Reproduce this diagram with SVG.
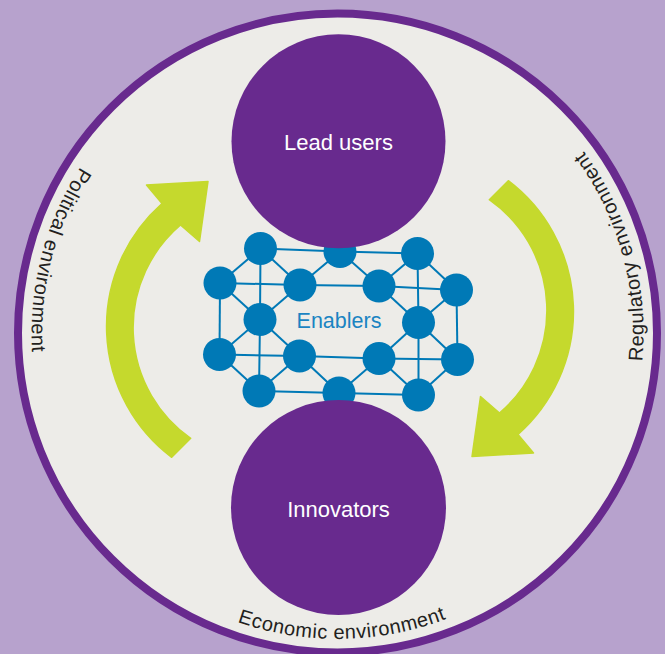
<svg xmlns="http://www.w3.org/2000/svg" width="665" height="654" viewBox="0 0 665 654">
  <defs>
    <style>
      .ring { font-family: "Liberation Sans", Arial, sans-serif; font-size: 20px; letter-spacing: 0.5px; fill: #231f20; }
      .big { fill: #682a8e; }
      .bigtxt { font-family: "Liberation Sans", Arial, sans-serif; font-size: 22px; fill: #ffffff; text-anchor: middle; }
      .node { fill: #0079b6; }
      .edge { stroke: #0079b6; stroke-width: 2; fill: none; }
      .arrow { fill: #c5d92d; stroke: #c5d92d; stroke-width: 1.5; stroke-linejoin: round; }
    </style>
    <path id="pPol" d="M 182.7 69.1 A 306 306 0 0 0 73.6 487.8"/>
    <path id="pReg" d="M 604.1 483.2 A 306 306 0 0 0 487.7 66.4"/>
    <path id="pEco" d="M 124.6 552.7 A 306 306 0 0 0 557.2 545.9"/>
    <path id="arrowShape" d="M 208 181.5 L 146.5 185 L 162 203.5 A 164 164 0 0 0 171.7 457.3 L 190.7 438.3 A 135 135 0 0 1 180.5 225 L 199.5 241.5 Z"/>
  </defs>

  <rect x="0" y="0" width="665" height="654" fill="#b7a2cd"/>

  <g id="environment">
    <circle cx="337.5" cy="333" r="319.5" fill="#edece8" stroke="#682a8e" stroke-width="8"/>
    <text class="ring"><textPath href="#pPol" startOffset="50%" text-anchor="middle">Political environment</textPath></text>
    <text class="ring"><textPath href="#pReg" startOffset="50%" text-anchor="middle">Regulatory environment</textPath></text>
    <text class="ring"><textPath href="#pEco" startOffset="50%" text-anchor="middle">Economic environment</textPath></text>
  </g>

  <g id="connectors">
    <use href="#arrowShape" class="arrow"/>
    <use href="#arrowShape" class="arrow" transform="rotate(180 340 319)"/>
  </g>

  <g id="enablers">
    <g class="edge">
      <polyline points="260.5,248.5 340,251.5 417.5,253.5"/>
      <polyline points="220,283 300,285 379,286 456.5,290"/>
      <polyline points="219.5,354.5 299.5,356 379,358.5 457.5,359.5"/>
      <polyline points="259,391 339,393 418.5,395"/>
      <polyline points="260.5,248.5 260,319.5 259,391"/>
      <polyline points="417.5,253.5 418.5,322.5 418.5,395"/>
      <line x1="220" y1="283" x2="219.5" y2="354.5"/>
      <line x1="456.5" y1="290" x2="457.5" y2="359.5"/>
      <line x1="260.5" y1="248.5" x2="220" y2="283"/>
      <line x1="260.5" y1="248.5" x2="300" y2="285"/>
      <line x1="300" y1="285" x2="340" y2="251.5"/>
      <line x1="340" y1="251.5" x2="379" y2="286"/>
      <line x1="417.5" y1="253.5" x2="379" y2="286"/>
      <line x1="417.5" y1="253.5" x2="456.5" y2="290"/>
      <line x1="220" y1="283" x2="260" y2="319.5"/>
      <line x1="300" y1="285" x2="260" y2="319.5"/>
      <line x1="379" y1="286" x2="418.5" y2="322.5"/>
      <line x1="456.5" y1="290" x2="418.5" y2="322.5"/>
      <line x1="260" y1="319.5" x2="219.5" y2="354.5"/>
      <line x1="260" y1="319.5" x2="299.5" y2="356"/>
      <line x1="418.5" y1="322.5" x2="379" y2="358.5"/>
      <line x1="418.5" y1="322.5" x2="457.5" y2="359.5"/>
      <line x1="219.5" y1="354.5" x2="259" y2="391"/>
      <line x1="299.5" y1="356" x2="259" y2="391"/>
      <line x1="299.5" y1="356" x2="339" y2="393"/>
      <line x1="379" y1="358.5" x2="339" y2="393"/>
      <line x1="379" y1="358.5" x2="418.5" y2="395"/>
      <line x1="457.5" y1="359.5" x2="418.5" y2="395"/>
    </g>
    <g class="node">
      <circle cx="260.5" cy="248.5" r="16.5"/>
      <circle cx="340" cy="251.5" r="16.5"/>
      <circle cx="417.5" cy="253.5" r="16.5"/>
      <circle cx="220" cy="283" r="16.5"/>
      <circle cx="300" cy="285" r="16.5"/>
      <circle cx="379" cy="286" r="16.5"/>
      <circle cx="456.5" cy="290" r="16.5"/>
      <circle cx="260" cy="319.5" r="16.5"/>
      <circle cx="418.5" cy="322.5" r="16.5"/>
      <circle cx="219.5" cy="354.5" r="16.5"/>
      <circle cx="299.5" cy="356" r="16.5"/>
      <circle cx="379" cy="358.5" r="16.5"/>
      <circle cx="457.5" cy="359.5" r="16.5"/>
      <circle cx="259" cy="391" r="16.5"/>
      <circle cx="339" cy="393" r="16.5"/>
      <circle cx="418.5" cy="395" r="16.5"/>
    </g>
    <text x="339" y="328.3" font-family="Liberation Sans, Arial, sans-serif" font-size="21.5" fill="#1a84c2" text-anchor="middle">Enablers</text>
  </g>

  <g id="lead-users">
    <circle class="big" cx="338.5" cy="141.3" r="107"/>
    <text class="bigtxt" x="338.5" y="150">Lead users</text>
  </g>

  <g id="innovators">
    <circle class="big" cx="338.5" cy="507.5" r="107.5"/>
    <text class="bigtxt" x="338.5" y="516.7">Innovators</text>
  </g>
</svg>
